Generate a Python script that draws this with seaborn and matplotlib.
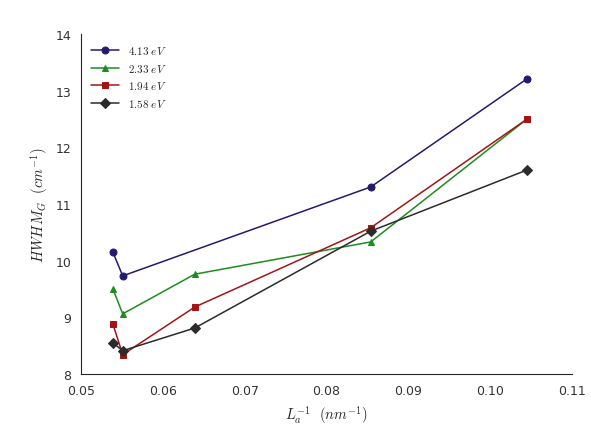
import pandas as pd
import seaborn as sns
import matplotlib.pyplot as plt

sns.set_style('white')
plt.rcParams['mathtext.fontset'] = 'cm'

# inverse crystallite size (nm^-1)
x = [0.0539, 0.0551, 0.0639, 0.0854, 0.1045]
x_413 = [0.0539, 0.0551, 0.0854, 0.1045]

energies = ['4.13', '2.33', '1.94', '1.58']
hwhm_413 = [10.15, 9.73, 11.30, 13.21]
hwhm_233 = [9.50, 9.06, 9.76, 10.33, 12.50]
hwhm_194 = [8.88, 8.34, 9.18, 10.58, 12.50]
hwhm_158 = [8.55, 8.41, 8.81, 10.52, 11.60]

series = [
    (x_413, hwhm_413, '#241a70', 'o'),
    (x, hwhm_233, '#1e8c1e', '^'),
    (x, hwhm_194, '#a31515', 's'),
    (x, hwhm_158, '#2b2b2b', 'D'),
]

fig, ax = plt.subplots(figsize=(5.91, 4.27), dpi=100)
for e, (xs, ys, c, m) in zip(energies, series):
    df = pd.DataFrame({'x': xs, 'y': ys})
    sns.lineplot(data=df, x='x', y='y', color=c, marker=m, markersize=5,
                 markeredgecolor=c, linewidth=1.1, sort=False,
                 label=r'$%s\ eV$' % e, ax=ax)

ax.set_xlim(0.05, 0.11)
ax.set_ylim(8, 14)
ax.set_xticks([0.05, 0.06, 0.07, 0.08, 0.09, 0.10, 0.11])
ax.set_xticklabels(['0.05', '0.06', '0.07', '0.08', '0.09', '0.10', '0.11'])
ax.tick_params(labelsize=9, colors='#333333')
ax.set_xlabel(r'$L_a^{-1}\ \ (nm^{-1})$', fontsize=10.5, labelpad=5)
ax.set_ylabel(r'$HWHM_G\ \ (cm^{-1})$', fontsize=10.5, labelpad=4)
sns.despine(ax=ax)
ax.legend(loc='upper left', frameon=False, fontsize=8, handlelength=2.5)

plt.subplots_adjust(left=0.137, right=0.968, top=0.918, bottom=0.122)
plt.savefig('out.png', dpi=100)
